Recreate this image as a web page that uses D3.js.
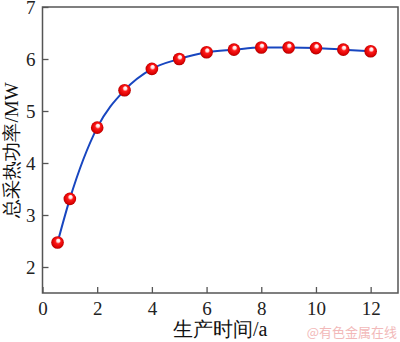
<!DOCTYPE html>
<html>
<head>
<meta charset="utf-8">
<script src="https://cdn.jsdelivr.net/npm/d3@7/dist/d3.min.js"></script>
</head>
<body style="margin:0;background:#fff">
<script>
// Production time (years) and total heat extraction power (MW)
const years = [0.55, 1, 2, 3, 4, 5, 6, 7, 8, 9, 10, 11, 12];
const powerMW = [2.47, 3.31, 4.68, 5.40, 5.81, 6.00, 6.13, 6.18, 6.22, 6.22, 6.21, 6.18, 6.15];
const xTicks = [0, 2, 4, 6, 8, 10, 12];
const yTicks = [2, 3, 4, 5, 6, 7];

const W = 400, H = 342;
const margin = { left: 42.5, right: 2, top: 7, bottom: 49 };
const serif = "'Liberation Serif', 'Times New Roman', serif";

const svg = d3.select("body").append("svg")
  .attr("width", W).attr("height", H)
  .style("display", "block");

const x = d3.scaleLinear().domain([0, 13]).range([margin.left, W - margin.right]);
const y = d3.scaleLinear().domain([1.5, 7]).range([H - margin.bottom, margin.top]);

// sphere-like marker fill
const defs = svg.append("defs");
const grad = defs.append("radialGradient").attr("id", "ball")
  .attr("cx", "50%").attr("cy", "50%").attr("r", "55%")
  .attr("fx", "58%").attr("fy", "30%");
grad.append("stop").attr("offset", "0%").attr("stop-color", "#ffffff");
grad.append("stop").attr("offset", "22%").attr("stop-color", "#ffe0e0");
grad.append("stop").attr("offset", "40%").attr("stop-color", "#ff1a1a");
grad.append("stop").attr("offset", "80%").attr("stop-color", "#d80000");
grad.append("stop").attr("offset", "100%").attr("stop-color", "#900000");

const axisColor = "#555";

// axes with inward ticks
const gx = svg.append("g").attr("transform", `translate(0,${H - margin.bottom})`)
  .call(d3.axisBottom(x).tickValues(xTicks).tickSize(-6).tickPadding(9).tickFormat(d3.format("d")));
const gy = svg.append("g").attr("transform", `translate(${margin.left},0)`)
  .call(d3.axisLeft(y).tickValues(yTicks).tickSize(-6).tickPadding(7).tickFormat(d3.format("d")));
[gx, gy].forEach(g => {
  g.attr("font-family", "Liberation Serif").attr("font-size", 19);
  g.select(".domain").remove();
  g.selectAll(".tick line").attr("stroke", axisColor).attr("stroke-width", 1.3);
  g.selectAll(".tick text").style("font-family", serif).style("font-size", "19px").attr("fill", "#222");
});
gy.selectAll(".tick text").attr("dy", "0.36em");

// frame
svg.append("rect")
  .attr("x", margin.left).attr("y", margin.top)
  .attr("width", W - margin.right - margin.left)
  .attr("height", H - margin.bottom - margin.top)
  .attr("fill", "none").attr("stroke", axisColor).attr("stroke-width", 1.5);

const pts = years.map((t, i) => [t, powerMW[i]]);

// curve
svg.append("path")
  .datum(pts)
  .attr("fill", "none")
  .attr("stroke", "#1846c0")
  .attr("stroke-width", 2)
  .attr("d", d3.line().x(d => x(d[0])).y(d => y(d[1])).curve(d3.curveMonotoneX));

// markers
svg.append("g").selectAll("circle").data(pts).join("circle")
  .attr("cx", d => x(d[0])).attr("cy", d => y(d[1]))
  .attr("r", 6.3).attr("fill", "url(#ball)");

// axis titles
svg.append("text")
  .attr("x", (margin.left + W - margin.right) / 2).attr("y", 336)
  .attr("text-anchor", "middle")
  .attr("font-family", "Liberation Serif").attr("font-size", 20)
  .attr("fill", "#111")
  .text("生产时间/a");

svg.append("text")
  .attr("transform", `translate(18,${(margin.top + H - margin.bottom) / 2}) rotate(-90)`)
  .attr("text-anchor", "middle")
  .attr("font-family", "Liberation Serif").attr("font-size", 19)
  .attr("fill", "#111")
  .text("总采热功率/MW");

// watermark
svg.append("text")
  .attr("x", 397).attr("y", 337)
  .attr("text-anchor", "end")
  .attr("font-family", "Noto Sans CJK SC").attr("font-size", 13)
  .attr("fill", "#f2b9b9")
  .text("@有色金属在线");
</script>
</body>
</html>
